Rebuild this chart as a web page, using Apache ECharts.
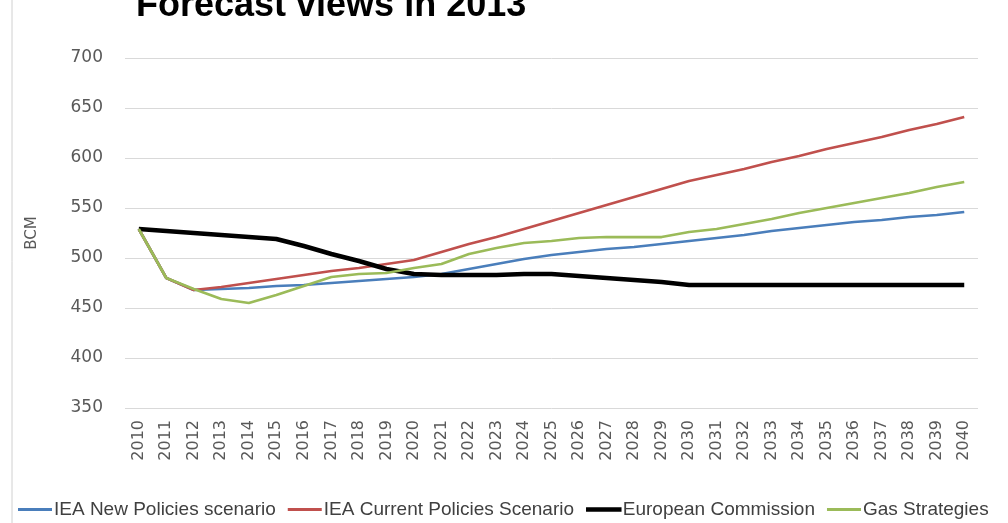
<!DOCTYPE html>
<html>
<head>
<meta charset="utf-8">
<script src="https://cdn.jsdelivr.net/npm/echarts@6/dist/echarts.min.js"></script>
<style>
  html, body { margin: 0; padding: 0; background: #fff; }
  #chart { width: 1008px; height: 523px; }
</style>
</head>
<body>
<div id="chart"></div>
<script>
const years = [];
for (let y = 2010; y <= 2040; y++) years.push(String(y));

const ieaNew = [529, 480, 468, 469, 470, 472, 473, 475, 477, 479, 481, 484, 489, 494, 499, 503, 506, 509, 511, 514, 517, 520, 523, 527, 530, 533, 536, 538, 541, 543, 546];
const ieaCurrent = [529, 480, 468, 471, 475, 479, 483, 487, 490, 494, 498, 506, 514, 521, 529, 537, 545, 553, 561, 569, 577, 583, 589, 596, 602, 609, 615, 621, 628, 634, 641];
const euroComm = [529, 527, 525, 523, 521, 519, 512, 504, 497, 489, 484, 483, 483, 483, 484, 484, 482, 480, 478, 476, 473, 473, 473, 473, 473, 473, 473, 473, 473, 473, 473];
const gasStrat = [529, 480, 469, 459, 455, 463, 472, 481, 484, 485, 490, 494, 504, 510, 515, 517, 520, 521, 521, 521, 526, 529, 534, 539, 545, 550, 555, 560, 565, 571, 576];

const chart = echarts.init(document.getElementById('chart'));

const option = {
  backgroundColor: '#fff',
  animation: false,
  title: {
    text: 'Forecast views in 2013',
    left: 131,
    top: -17,
    textStyle: { fontFamily: 'Liberation Sans, Arial', fontWeight: 'bold', fontSize: 36, color: '#000' }
  },
  graphic: [
    { type: 'line', shape: { x1: 12, y1: 0, x2: 12, y2: 523 }, style: { stroke: '#d0d0d0', lineWidth: 1 } }
  ],
  legend: {
    bottom: -1,
    left: 13,
    itemGap: 12,
    itemWidth: 34,
    itemHeight: 3,
    textStyle: { fontFamily: 'Liberation Sans, Arial', fontSize: 19, color: '#404040', padding: [0, 0, 0, -3] },
    data: [
      { name: 'IEA New Policies scenario', icon: 'rect' },
      { name: 'IEA Current Policies Scenario', icon: 'rect' },
      { name: 'European Commission', icon: 'rect', itemStyle: { borderWidth: 1.5, borderColor: '#000' } },
      { name: 'Gas Strategies', icon: 'rect' }
    ]
  },
  grid: { left: 125, right: 30, top: 58, bottom: 115 },
  xAxis: {
    type: 'category',
    data: years,
    boundaryGap: true,
    axisLine: { show: false },
    axisTick: { show: false },
    axisLabel: { rotate: 90, fontSize: 16, color: '#595959', margin: 12, fontFamily: 'DejaVu Sans' }
  },
  yAxis: {
    type: 'value',
    min: 350,
    max: 700,
    interval: 50,
    name: 'BCM',
    nameLocation: 'middle',
    nameRotate: 90,
    nameGap: 85,
    nameTextStyle: { fontSize: 15, color: '#595959', fontFamily: 'DejaVu Sans' },
    axisLine: { show: false },
    axisTick: { show: false },
    axisLabel: { fontSize: 17, color: '#595959', margin: 22, fontFamily: 'DejaVu Sans' },
    splitLine: { lineStyle: { color: '#d9d9d9', width: 1 } }
  },
  series: [
    { name: 'IEA New Policies scenario', type: 'line', data: ieaNew, symbol: 'none', color: '#4a7ebb', lineStyle: { width: 2.75 }, z: 2 },
    { name: 'IEA Current Policies Scenario', type: 'line', data: ieaCurrent, symbol: 'none', color: '#c0504d', lineStyle: { width: 2.75 }, z: 3 },
    { name: 'European Commission', type: 'line', data: euroComm, symbol: 'none', color: '#000000', lineStyle: { width: 4.5 }, z: 4 },
    { name: 'Gas Strategies', type: 'line', data: gasStrat, symbol: 'none', color: '#9bbb59', lineStyle: { width: 2.75 }, z: 5 }
  ]
};

chart.setOption(option);
</script>
</body>
</html>
